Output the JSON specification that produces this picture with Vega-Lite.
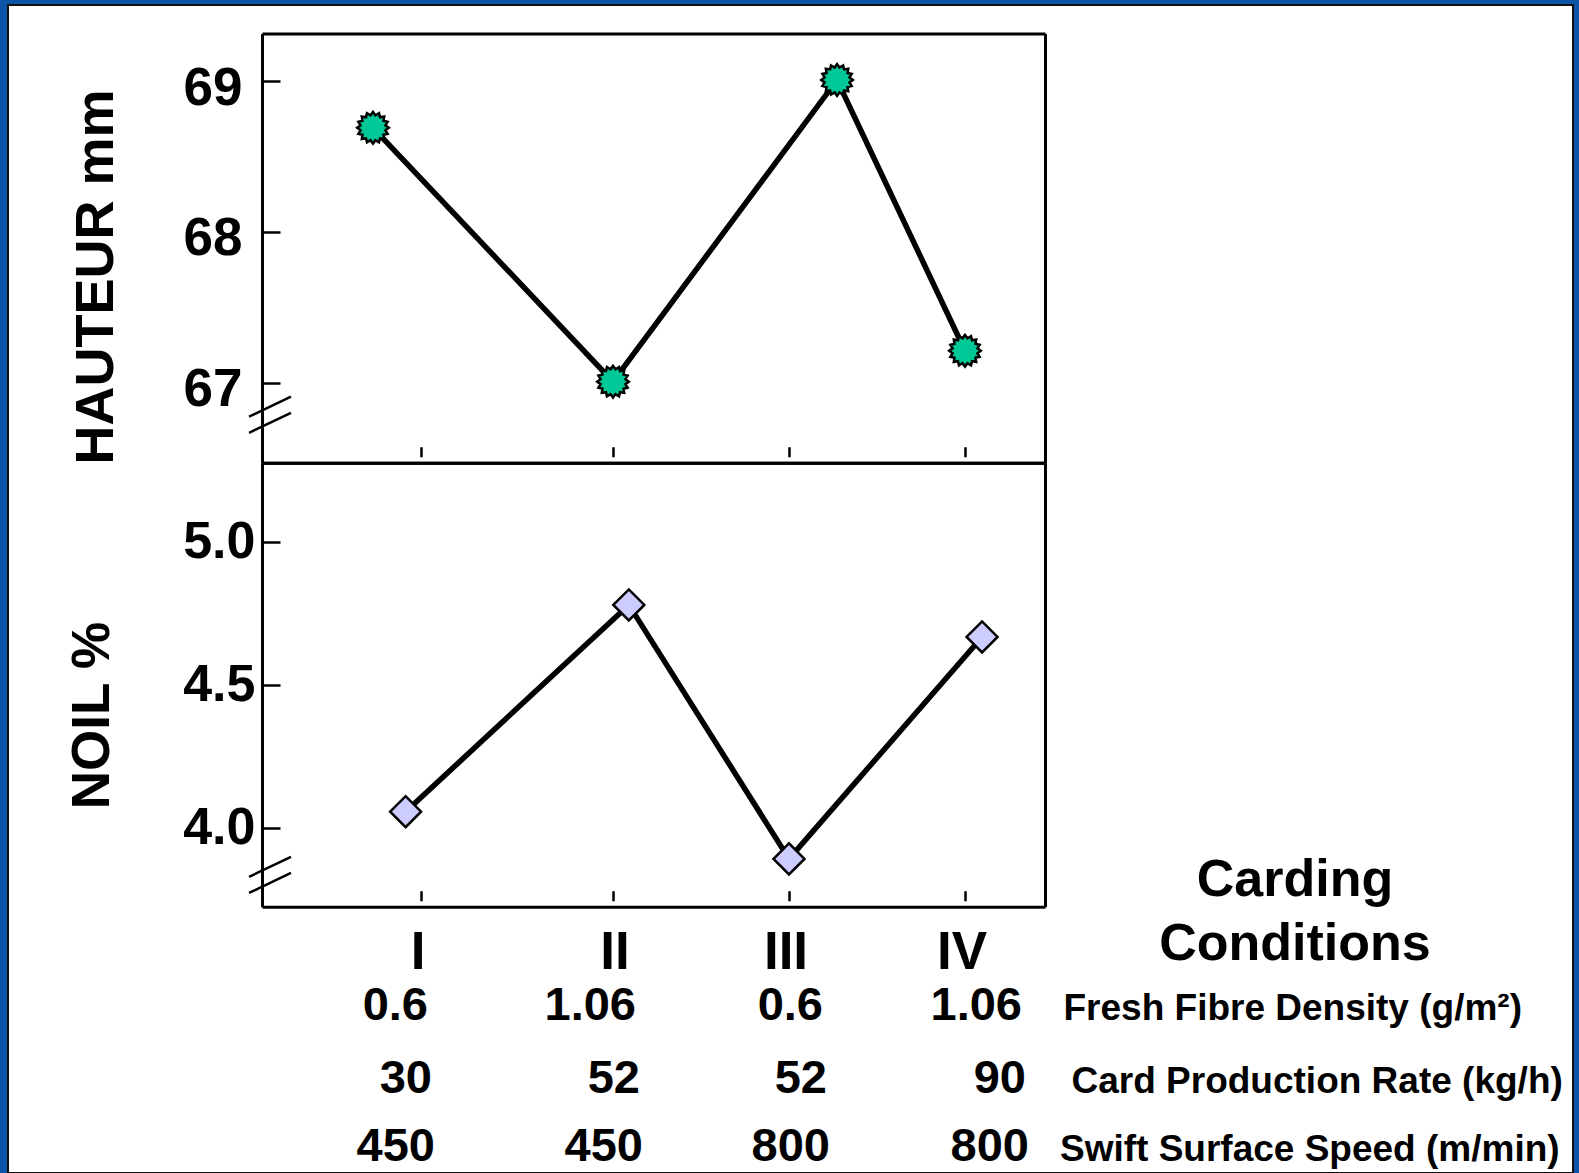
{
  "$schema": "https://vega.github.io/schema/vega-lite/v6.json",
  "width": 1565,
  "height": 1168,
  "autosize": {"type": "none"},
  "padding": {"left": 8, "top": 5, "right": 6, "bottom": 0},
  "background": "#0d54a8",
  "config": {
    "view": {"fill": "#ffffff", "stroke": "#111111", "strokeWidth": 2},
    "font": "Liberation Sans",
    "axis": {"grid": false, "domain": false, "domainColor": "#000000", "domainWidth": 3, "tickColor": "#000000", "labelColor": "#000000", "titleColor": "#000000", "labelFont": "Liberation Sans", "titleFont": "Liberation Sans", "labelFontWeight": "bold", "titleFontWeight": "bold"}
  },
  "datasets": {
    "conditions": [
      {"condition": "I", "index": 1, "hauteur_pos": 0.75, "hauteur": 68.69, "noil_pos": 0.92, "noil": 4.056, "density": 0.6, "rate": 30, "speed": 450},
      {"condition": "II", "index": 2, "hauteur_pos": 2.0, "hauteur": 67.007, "noil_pos": 2.09, "noil": 4.779, "density": 1.06, "rate": 52, "speed": 450},
      {"condition": "III", "index": 3, "hauteur_pos": 3.273, "hauteur": 69.007, "noil_pos": 3.0, "noil": 3.891, "density": 0.6, "rate": 52, "speed": 800},
      {"condition": "IV", "index": 4, "hauteur_pos": 4.0, "hauteur": 67.212, "noil_pos": 4.097, "noil": 4.667, "density": 1.06, "rate": 90, "speed": 800}
    ]
  },
  "layer": [
    {
      "data": {"name": "conditions"},
      "layer": [
        {
          "mark": {"type": "line", "color": "#000000", "strokeWidth": 5.5},
          "encoding": {
            "x": {
              "field": "hauteur_pos", "type": "quantitative",
              "scale": {"domain": [0.172, 1, 2, 3, 4, 4.4545], "range": [254, 413, 605, 781, 957, 1037], "nice": false, "zero": false},
              "axis": {"orient": "bottom", "offset": -710.3, "values": [1, 2, 3, 4], "labels": false, "domain": true, "domainWidth": 3, "tickSize": -16, "tickDash": [0, 6, 10, 100], "tickWidth": 2.5, "title": null, "grid": false}
            },
            "y": {
              "field": "hauteur", "type": "quantitative",
              "scale": {"domain": [66.47, 69.315], "range": [457.7, 28.5], "nice": false, "zero": false},
              "axis": {"orient": "left", "offset": -254, "values": [67, 68, 69], "format": "d", "domain": true, "domainWidth": 3, "tickSize": -18, "tickWidth": 2.5, "labelPadding": 38, "labelFontSize": 53, "labelOffset": 7, "labelBaseline": "middle", "title": "HAUTEUR mm", "titleFontSize": 54, "titleAngle": -90, "titleAlign": "center", "titleBaseline": "middle", "titleX": -166, "titleY": 271.5, "grid": false}
            }
          }
        },
        {
          "mark": {"type": "point", "shape": "M1,0L0.785,0.156L0.924,0.383L0.665,0.444L0.707,0.707L0.444,0.665L0.383,0.924L0.156,0.785L0,1L-0.156,0.785L-0.383,0.924L-0.444,0.665L-0.707,0.707L-0.665,0.444L-0.924,0.383L-0.785,0.156L-1,0L-0.785,-0.156L-0.924,-0.383L-0.665,-0.444L-0.707,-0.707L-0.444,-0.665L-0.383,-0.924L-0.156,-0.785L0,-1L0.156,-0.785L0.383,-0.924L0.444,-0.665L0.707,-0.707L0.665,-0.444L0.924,-0.383L0.785,-0.156Z", "size": 1000, "filled": true, "fill": "#00c896", "stroke": "#000000", "strokeWidth": 2.5, "opacity": 1},
          "encoding": {
            "x": {
              "field": "hauteur_pos", "type": "quantitative",
              "scale": {"domain": [0.172, 1, 2, 3, 4, 4.4545], "range": [254, 413, 605, 781, 957, 1037], "nice": false, "zero": false},
              "axis": {"orient": "top", "offset": -28.5, "ticks": false, "labels": false, "domain": true, "domainWidth": 3, "title": null, "grid": false}
            },
            "y": {
              "field": "hauteur", "type": "quantitative",
              "scale": {"domain": [66.47, 69.315], "range": [457.7, 28.5], "nice": false, "zero": false},
              "axis": {"orient": "right", "offset": -528, "ticks": false, "labels": false, "domain": true, "domainWidth": 3, "title": null, "grid": false}
            }
          }
        },
        {
          "data": {"values": [{}]},
          "mark": {"type": "point", "shape": "M-0.563,0.085L1.259,-0.785M-0.563,0.785L1.259,-0.085", "size": 2116, "filled": false, "stroke": "#000000", "strokeWidth": 2.5, "opacity": 1, "invalid": null},
          "encoding": {
            "x": {"datum": 0.172, "type": "quantitative", "axis": null},
            "y": {"datum": 66.788, "type": "quantitative", "axis": null}
          }
        }
      ],
      "resolve": {"axis": {"x": "independent", "y": "independent"}}
    },
    {
      "data": {"name": "conditions"},
      "layer": [
        {
          "mark": {"type": "line", "color": "#000000", "strokeWidth": 5.5},
          "encoding": {
            "x": {
              "field": "noil_pos", "type": "quantitative",
              "scale": {"domain": [0.172, 1, 2, 3, 4, 4.4545], "range": [254, 413, 605, 781, 957, 1037], "nice": false, "zero": false},
              "axis": {"orient": "bottom", "offset": -266.3, "values": [1, 2, 3, 4], "labels": false, "domain": true, "domainWidth": 3, "tickSize": -16, "tickDash": [0, 6, 10, 100], "tickWidth": 2.5, "title": null, "grid": false}
            },
            "y": {
              "field": "noil", "type": "quantitative",
              "scale": {"domain": [3.7238, 5.2762], "range": [901.7, 457.7], "nice": false, "zero": false},
              "axis": {"orient": "left", "offset": -254, "values": [4, 4.5, 5], "format": ".1f", "domain": true, "domainWidth": 3, "tickSize": -18, "tickWidth": 2.5, "labelPadding": 25, "labelFontSize": 52, "labelOffset": 0, "labelBaseline": "middle", "title": "NOIL %", "titleFontSize": 53, "titleAngle": -90, "titleAlign": "center", "titleBaseline": "middle", "titleX": -169.5, "titleY": 710, "grid": false}
            }
          }
        },
        {
          "mark": {"type": "point", "shape": "diamond", "size": 960, "filled": true, "fill": "#ccccff", "stroke": "#000000", "strokeWidth": 2.5, "opacity": 1},
          "encoding": {
            "x": {
              "field": "noil_pos", "type": "quantitative",
              "scale": {"domain": [0.172, 1, 2, 3, 4, 4.4545], "range": [254, 413, 605, 781, 957, 1037], "nice": false, "zero": false},
              "axis": {"orient": "top", "offset": -457.7, "ticks": false, "labels": false, "domain": true, "domainWidth": 3, "title": null, "grid": false}
            },
            "y": {
              "field": "noil", "type": "quantitative",
              "scale": {"domain": [3.7238, 5.2762], "range": [901.7, 457.7], "nice": false, "zero": false},
              "axis": {"orient": "right", "offset": -528, "ticks": false, "labels": false, "domain": true, "domainWidth": 3, "title": null, "grid": false}
            }
          }
        },
        {
          "data": {"values": [{}]},
          "mark": {"type": "point", "shape": "M-0.563,0.085L1.259,-0.785M-0.563,0.785L1.259,-0.085", "size": 2116, "filled": false, "stroke": "#000000", "strokeWidth": 2.5, "opacity": 1, "invalid": null},
          "encoding": {
            "x": {"datum": 0.172, "type": "quantitative", "axis": null},
            "y": {"datum": 3.835, "type": "quantitative", "axis": null}
          }
        }
      ],
      "resolve": {"axis": {"x": "independent", "y": "independent"}}
    },
    {
      "data": {"name": "conditions"},
      "layer": [
        {
          "mark": {"type": "text", "font": "Liberation Sans", "fontSize": 53, "fontWeight": "bold", "baseline": "alphabetic", "align": "center", "dx": 0, "dy": 7, "color": "#000000"},
          "encoding": {
            "x": {"field": "index", "type": "quantitative", "scale": {"domain": [1, 2, 3, 4], "range": [410, 607, 778, 954], "nice": false, "zero": false}, "axis": null},
            "y": {"datum": "Conditions", "type": "nominal", "scale": {"type": "point", "domain": ["Carding", "Conditions", "Fresh Fibre Density (g/m²)", "Card Production Rate (kg/h)", "Swift Surface Speed (m/min)"], "range": [891, 1156], "padding": 0}, "axis": null},
            "text": {"field": "condition", "type": "nominal"}
          }
        },
        {
          "encoding": {
            "x": {"field": "index", "type": "quantitative", "scale": {"domain": [1, 2, 3, 4], "range": [424, 632, 819, 1018], "nice": false, "zero": false}, "axis": null}
          },
          "layer": [
            {
              "mark": {"type": "text", "font": "Liberation Sans", "fontSize": 47, "fontWeight": "bold", "baseline": "alphabetic", "align": "right", "dx": -4, "dy": -8.5, "color": "#000000"},
              "encoding": {
                "y": {"datum": "Fresh Fibre Density (g/m²)", "type": "nominal", "axis": null},
                "text": {"field": "density", "type": "nominal"}
              }
            },
            {
              "mark": {"type": "text", "font": "Liberation Sans", "fontSize": 47, "fontWeight": "bold", "baseline": "alphabetic", "align": "right", "dx": 0, "dy": -2, "color": "#000000"},
              "encoding": {
                "y": {"datum": "Card Production Rate (kg/h)", "type": "nominal", "axis": null},
                "text": {"field": "rate", "type": "nominal"}
              }
            },
            {
              "mark": {"type": "text", "font": "Liberation Sans", "fontSize": 47, "fontWeight": "bold", "baseline": "alphabetic", "align": "right", "dx": 3, "dy": 0, "color": "#000000"},
              "encoding": {
                "y": {"datum": "Swift Surface Speed (m/min)", "type": "nominal", "axis": null},
                "text": {"field": "speed", "type": "nominal"}
              }
            },
            {
              "transform": [{"filter": {"field": "condition", "equal": "IV"}}],
              "mark": {"type": "text", "font": "Liberation Sans", "fontSize": 37, "fontWeight": "bold", "baseline": "alphabetic", "align": "left", "dx": 37.5, "dy": -8.5, "color": "#000000"},
              "encoding": {
                "y": {"datum": "Fresh Fibre Density (g/m²)", "type": "nominal", "axis": null},
                "text": {"value": "Fresh Fibre Density (g/m²)"}
              }
            },
            {
              "transform": [{"filter": {"field": "condition", "equal": "IV"}}],
              "mark": {"type": "text", "font": "Liberation Sans", "fontSize": 37, "fontWeight": "bold", "baseline": "alphabetic", "align": "left", "dx": 45.5, "dy": -2, "color": "#000000"},
              "encoding": {
                "y": {"datum": "Card Production Rate (kg/h)", "type": "nominal", "axis": null},
                "text": {"value": "Card Production Rate (kg/h)"}
              }
            },
            {
              "transform": [{"filter": {"field": "condition", "equal": "IV"}}],
              "mark": {"type": "text", "font": "Liberation Sans", "fontSize": 37, "fontWeight": "bold", "baseline": "alphabetic", "align": "left", "dx": 34, "dy": 0, "color": "#000000"},
              "encoding": {
                "y": {"datum": "Swift Surface Speed (m/min)", "type": "nominal", "axis": null},
                "text": {"value": "Swift Surface Speed (m/min)"}
              }
            },
            {
              "transform": [{"filter": {"field": "condition", "equal": "IV"}}],
              "mark": {"type": "text", "font": "Liberation Sans", "fontSize": 52, "fontWeight": "bold", "baseline": "alphabetic", "align": "center", "dx": 269, "dy": 0, "color": "#000000"},
              "encoding": {
                "y": {"datum": "Carding", "type": "nominal", "axis": null},
                "text": {"value": "Carding"}
              }
            },
            {
              "transform": [{"filter": {"field": "condition", "equal": "IV"}}],
              "mark": {"type": "text", "font": "Liberation Sans", "fontSize": 52, "fontWeight": "bold", "baseline": "alphabetic", "align": "center", "dx": 269, "dy": -2, "color": "#000000"},
              "encoding": {
                "y": {"datum": "Conditions", "type": "nominal", "axis": null},
                "text": {"value": "Conditions"}
              }
            }
          ]
        }
      ],
      "resolve": {"scale": {"x": "independent"}}
    }
  ],
  "resolve": {
    "scale": {"x": "independent", "y": "independent"},
    "axis": {"x": "independent", "y": "independent"}
  }
}
